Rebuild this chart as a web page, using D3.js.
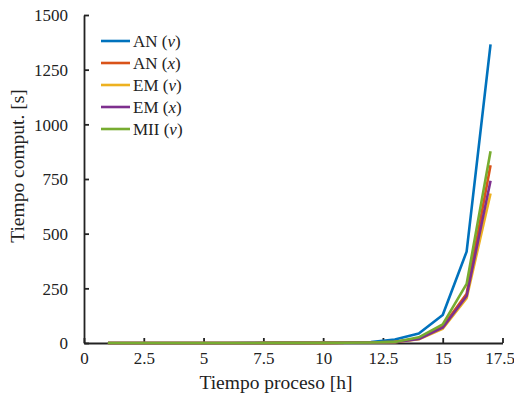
<!DOCTYPE html>
<html>
<head>
<meta charset="utf-8">
<script src="https://cdn.jsdelivr.net/npm/d3@7"></script>
<style>
  body { margin: 0; background: #fff; }
  svg, svg text { font-family: "Times New Roman", "Liberation Serif", Times, serif !important; fill: #222; }
</style>
</head>
<body>
<svg width="514" height="400"></svg>
<script>
var hours = [1, 2, 3, 4, 5, 6, 7, 8, 9, 10, 11, 12, 13, 14, 15, 16, 17];
var anV  = [0.1, 0.1, 0.1, 0.2, 0.2, 0.3, 0.4, 0.5, 0.7, 1, 2, 4, 16, 43, 128, 418, 1366];
var anX  = [0.1, 0.1, 0.1, 0.1, 0.2, 0.2, 0.3, 0.4, 0.5, 0.7, 1, 2, 5, 20, 75, 225, 813];
var emV  = [0.1, 0.1, 0.1, 0.1, 0.2, 0.2, 0.3, 0.4, 0.5, 0.7, 1, 2, 4, 17, 65, 205, 684];
var emX  = [0.1, 0.1, 0.1, 0.1, 0.2, 0.2, 0.3, 0.4, 0.5, 0.7, 1, 2, 4, 18, 70, 215, 742];
var miiV = [0.1, 0.1, 0.1, 0.1, 0.2, 0.2, 0.3, 0.4, 0.5, 0.7, 1, 2, 5, 26, 85, 270, 877];
var seriesNames = ['AN', 'AN', 'EM', 'EM', 'MII'];
var seriesVars = ['v', 'x', 'v', 'x', 'v'];
var colors = ['#0072BD', '#D95319', '#EDB120', '#7E2F8E', '#77AC30'];
var xTicks = [0, 2.5, 5, 7.5, 10, 12.5, 15, 17.5];
var yTicks = [0, 250, 500, 750, 1000, 1250, 1500];

var series = [anV, anX, emV, emX, miiV];

var svg = d3.select('svg');
var x = d3.scaleLinear().domain([0, 17.5]).range([84, 502.5]);
var y = d3.scaleLinear().domain([0, 1500]).range([343, 15]);

// axes, ticks pointing inward like matlab
var xAxis = svg.append('g').attr('transform', 'translate(0,343)')
  .call(d3.axisBottom(x).tickValues(xTicks).tickSizeInner(-5).tickSizeOuter(0).tickPadding(9)
    .tickFormat(function(d) { return d; }));
var yAxis = svg.append('g').attr('transform', 'translate(84,0)')
  .call(d3.axisLeft(y).tickValues(yTicks).tickSizeInner(-5).tickSizeOuter(0).tickPadding(16)
    .tickFormat(function(d) { return d; }));

[xAxis, yAxis].forEach(function(a) {
  a.attr('font-family', null);
  a.select('.domain').attr('stroke', '#222').attr('stroke-width', 1.8);
  a.selectAll('.tick line').attr('stroke', '#222').attr('stroke-width', 1.8);
  a.selectAll('.tick text').style('font-size', '17px').attr('fill', '#222');
});
yAxis.selectAll('.tick text').attr('dy', '0.35em');
// last x label sits a bit left so it stays inside the figure
xAxis.selectAll('.tick text').filter(function(d) { return d === 17.5; }).attr('dx', -3);

var line = d3.line()
  .x(function(d, i) { return x(hours[i]); })
  .y(function(d) { return y(d); });

svg.append('g').selectAll('path')
  .data(series)
  .enter().append('path')
  .attr('d', line)
  .attr('fill', 'none')
  .attr('stroke', function(d, i) { return colors[i]; })
  .attr('stroke-width', 2.6)
  .attr('stroke-linejoin', 'round');

// axis titles
svg.append('text')
  .attr('x', 276).attr('y', 389)
  .attr('text-anchor', 'middle')
  .style('font-size', '19.5px')
  .text('Tiempo proceso [h]');

svg.append('text')
  .attr('transform', 'translate(24,166) rotate(-90)')
  .attr('text-anchor', 'middle')
  .style('font-size', '19.5px')
  .text('Tiempo comput. [s]');

// legend
var leg = svg.append('g').selectAll('g')
  .data(seriesNames)
  .enter().append('g')
  .attr('transform', function(d, i) { return 'translate(101,' + (41 + i * 22) + ')'; });

leg.append('line')
  .attr('x1', 0).attr('x2', 29)
  .attr('stroke', function(d, i) { return colors[i]; })
  .attr('stroke-width', 2.6);

var lt = leg.append('text')
  .attr('x', 32).attr('dy', '0.35em')
  .style('font-size', '17px');
lt.append('tspan').text(function(d) { return d + ' ('; })
  .attr('xml:space', 'preserve');
lt.append('tspan').style('font-style', 'italic').text(function(d, i) { return seriesVars[i]; });
lt.append('tspan').text(')');
</script>
</body>
</html>
